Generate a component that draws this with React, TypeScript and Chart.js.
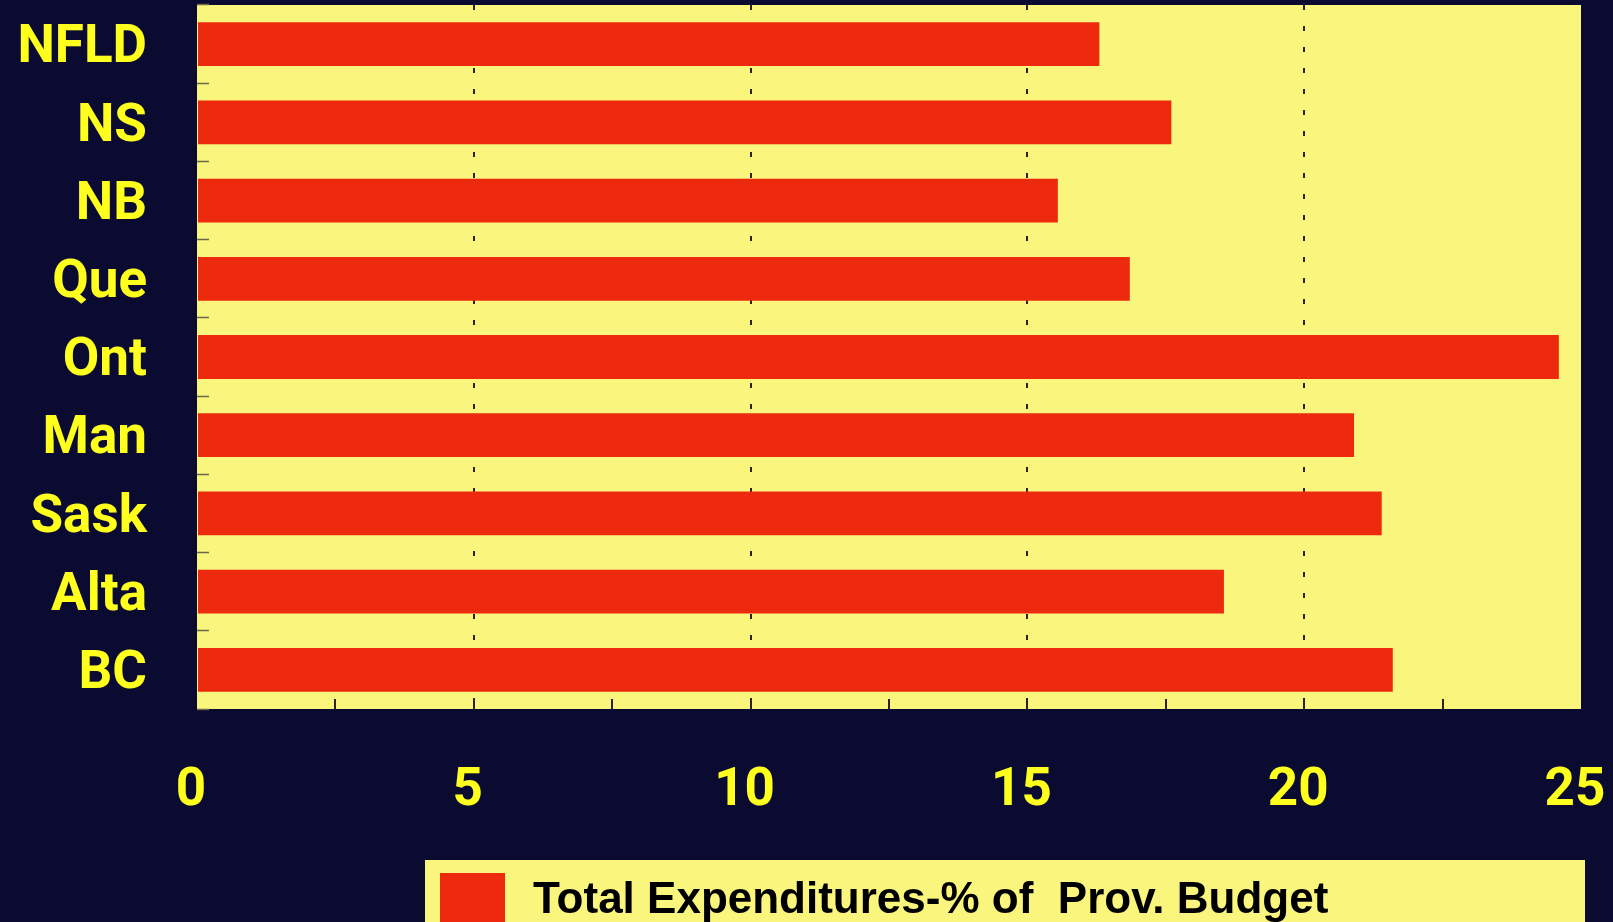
import React, { useEffect, useRef } from "react";
import { Chart, registerables } from "chart.js";

Chart.register(...registerables);

const categories: string[] = ["NFLD", "NS", "NB", "Que", "Ont", "Man", "Sask", "Alta", "BC"];
const expenditures: number[] = [16.3, 17.6, 15.55, 16.85, 24.6, 20.9, 21.4, 18.55, 21.6];
const seriesLabel = "Total Expenditures-% of  Prov. Budget";
const xMin = 0;
const xMax = 25;
const xStep = 2.5;
const labelStep = 5;

const NAVY = "#0b0b31";
const PLOT_YELLOW = "#faf57c";
const TEXT_YELLOW = "#ffff1e";
const BAR_RED = "#ee2a0e";
const GRID_DARK = "#2a2418";

const W = 1613;
const H = 922;

const backgroundPlugin = {
  id: "bgPlugin",
  beforeDraw(chart: any) {
    const { ctx, chartArea } = chart;
    ctx.save();
    ctx.fillStyle = NAVY;
    ctx.fillRect(0, 0, chart.width, chart.height);
    ctx.fillStyle = PLOT_YELLOW;
    ctx.fillRect(chartArea.left, chartArea.top, chartArea.right - chartArea.left, chartArea.bottom - chartArea.top);
    ctx.restore();
  },
  afterDraw(chart: any) {
    const { ctx } = chart;
    const ds = chart.data.datasets[0];
    ctx.save();
    ctx.fillStyle = PLOT_YELLOW;
    ctx.fillRect(425, 860, 1160, 80);
    ctx.fillStyle = ds.backgroundColor;
    ctx.fillRect(440, 873, 65, 65);
    ctx.fillStyle = "#000000";
    ctx.font = "bold 44px 'Liberation Sans', Arial, sans-serif";
    ctx.textBaseline = "alphabetic";
    ctx.textAlign = "left";
    ctx.fillText(ds.label, 533, 913);
    ctx.restore();
  },
};

function zeroPadding(scale: any) {
  scale.paddingTop = 0;
  scale.paddingBottom = 0;
  scale.paddingLeft = 0;
  scale.paddingRight = 0;
}

export default function App() {
  const ref = useRef<HTMLCanvasElement | null>(null);

  useEffect(() => {
    if (!ref.current) return;
    const chart = new Chart(ref.current, {
      type: "bar",
      data: {
        labels: categories,
        datasets: [
          {
            label: seriesLabel,
            data: expenditures,
            backgroundColor: BAR_RED,
            borderWidth: 0,
            barPercentage: 0.56,
            categoryPercentage: 1.0,
          },
        ],
      },
      options: {
        indexAxis: "y",
        animation: false,
        responsive: false,
        devicePixelRatio: 1,
        layout: { padding: { top: 5, right: 32, left: 0, bottom: 0 } },
        plugins: {
          legend: { display: false },
          tooltip: { enabled: false },
          title: { display: false },
        },
        scales: {
          x: {
            type: "linear",
            position: "bottom",
            min: xMin,
            max: xMax,
            afterFit(scale: any) {
              scale.height = 213;
              zeroPadding(scale);
            },
            ticks: {
              stepSize: xStep,
              autoSkip: false,
              maxRotation: 0,
              color: TEXT_YELLOW,
              padding: 61,
              labelOffset: -6,
              font: { family: "Roboto", weight: "bold", size: 53 },
              callback: (v: any) => (Number(v) % labelStep === 0 ? String(v) : ""),
            },
            grid: {
              drawOnChartArea: true,
              drawTicks: true,
              tickLength: -10,
              lineWidth: 2,
              tickWidth: 2,
              color: (c: any) => {
                const v = c.tick ? c.tick.value : 0;
                return v % labelStep === 0 && v !== xMin && v !== xMax ? GRID_DARK : "rgba(0,0,0,0)";
              },
              tickColor: (c: any) => {
                const v = c.tick ? c.tick.value : 0;
                return v !== xMin && v !== xMax ? GRID_DARK : "rgba(0,0,0,0)";
              },
            },
            border: { display: false, dash: [5, 16] },
          },
          y: {
            type: "category",
            position: "left",
            afterFit(scale: any) {
              scale.width = 197;
              zeroPadding(scale);
            },
            ticks: {
              color: TEXT_YELLOW,
              padding: 62,
              labelOffset: 5,
              font: { family: "Roboto", weight: "bold", size: 53 },
            },
            grid: {
              offset: true,
              drawOnChartArea: false,
              drawTicks: true,
              tickLength: -12,
              tickWidth: 1.5,
              tickColor: "#6b6650",
              color: "rgba(0,0,0,0)",
            },
            border: { display: false },
          },
        },
      },
      plugins: [backgroundPlugin],
    });
    return () => chart.destroy();
  }, []);

  return (
    <div style={{ position: "fixed", left: 0, top: 0, width: W, height: H, background: NAVY }}>
      <canvas ref={ref} width={W} height={H} style={{ display: "block", width: W, height: H }} />
    </div>
  );
}
